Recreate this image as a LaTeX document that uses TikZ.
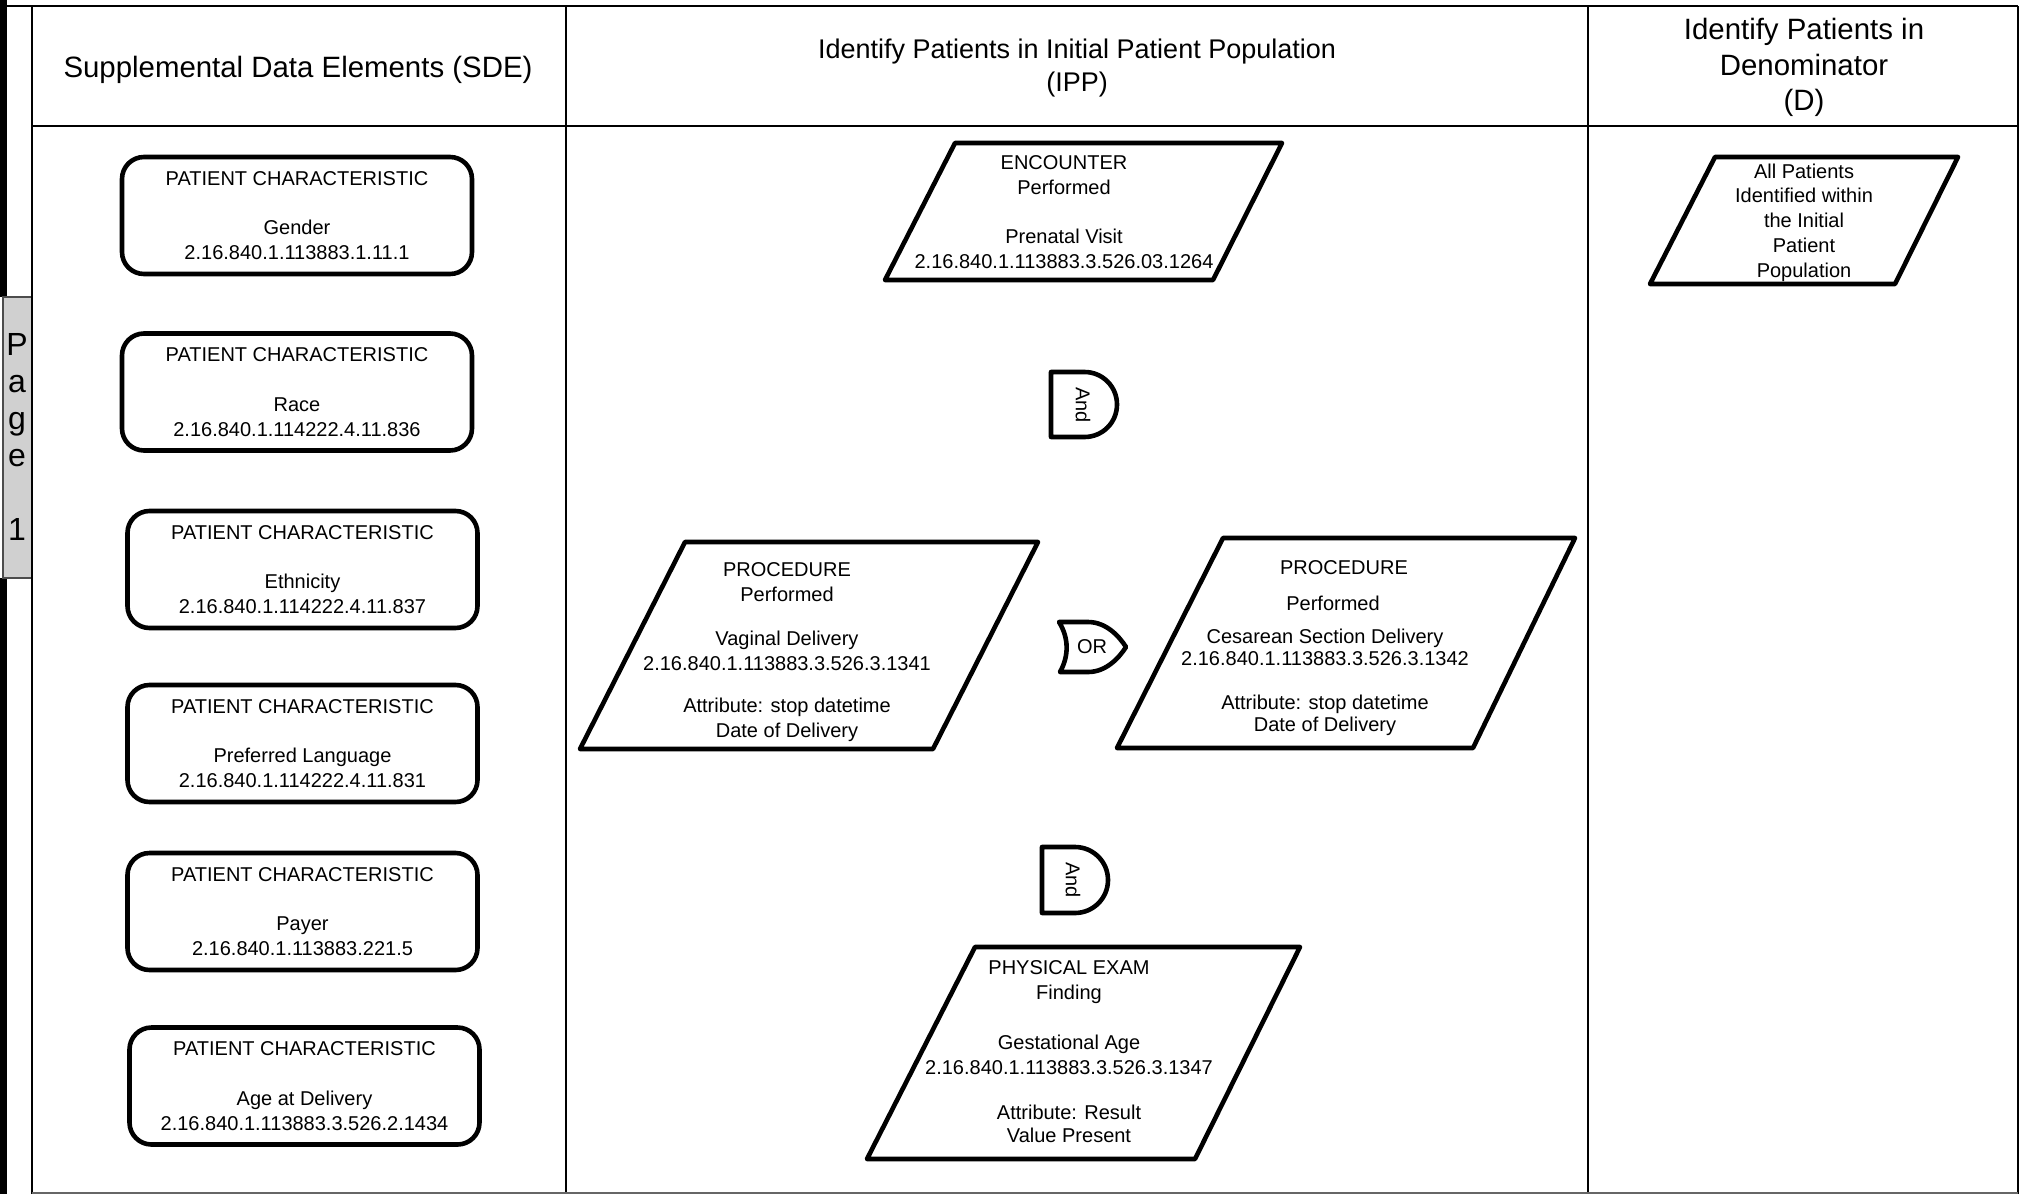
\documentclass[tikz,border=0pt]{standalone}
\usepackage{fontspec}
\setmainfont{Liberation Sans}
\newcommand\txtS{\fontsize{10pt}{12.4pt}\selectfont}
\newcommand\txtH{\fontsize{14.7pt}{17.75pt}\selectfont}
\newcommand\txtHi{\fontsize{13.5pt}{16.2pt}\selectfont}
\newcommand\txtP{\fontsize{16pt}{18.5pt}\selectfont}
\definecolor{tabgray}{RGB}{208,208,208}
\begin{document}
\begin{tikzpicture}[x=0.5pt,y={(0pt,-0.5pt)},
  tbl/.style={line width=1pt},
  shp/.style={draw, line width=2.3pt, line join=round},
  sde/.style={draw, line width=2.3pt, rounded corners=11pt, minimum width=175pt,
              minimum height=58.5pt, inner sep=0pt, align=center, font=\txtS},
  lbl/.style={align=center, font=\txtS, inner sep=0pt},
  hdr/.style={align=center, font=\txtH, inner sep=0pt}]
\useasboundingbox (0,0) rectangle (2023,1194);
\fill[white] (0,0) rectangle (2023,1194);

% left black bar and page tab
\fill[black] (0,0) rectangle (7,297);
\fill[black] (0,578) rectangle (7,1194);
\draw[fill=tabgray, draw=black!70, line width=0.8pt] (3,297) rectangle (32,578);
\node[align=center, font=\txtP, inner sep=0pt] (page) at (17,436.5) {P\\a\\g\\e\\[18.5pt]1};

% table
\draw[tbl] (7,6) -- (2018,6);
\draw[tbl] (32,6) -- (32,1194);
\draw[tbl] (566,6) -- (566,1194);
\draw[tbl] (1588,6) -- (1588,1194);
\draw[line width=1.2pt] (2018,6) -- (2018,1194);
\draw[tbl] (32,126) -- (2018,126);
\draw[tbl, black!60] (32,1193) -- (2018,1193);

% headers
\node[hdr] (hsde) at (298,70) {Supplemental Data Elements (SDE)};
\node[hdr, font=\txtHi] (hipp) at (1077,68) {Identify Patients in Initial Patient Population\\(IPP)};
\node[hdr] (hden) at (1804,67.6) {Identify Patients in\\Denominator\\(D)};

% SDE boxes
\node[sde] (gender) at (297,215.5) {PATIENT CHARACTERISTIC\\[12.4pt]Gender\\2.16.840.1.113883.1.11.1};
\node[sde] (race) at (297,392) {PATIENT CHARACTERISTIC\\[12.4pt]Race\\2.16.840.1.114222.4.11.836};
\node[sde] (ethnicity) at (302.5,569.5) {PATIENT CHARACTERISTIC\\[12.4pt]Ethnicity\\2.16.840.1.114222.4.11.837};
\node[sde] (language) at (302.5,743.5) {PATIENT CHARACTERISTIC\\[12.4pt]Preferred Language\\2.16.840.1.114222.4.11.831};
\node[sde] (payer) at (302.5,911.5) {PATIENT CHARACTERISTIC\\[12.4pt]Payer\\2.16.840.1.113883.221.5};
\node[sde] (age) at (304.5,1086) {PATIENT CHARACTERISTIC\\[12.4pt]Age at Delivery\\2.16.840.1.113883.3.526.2.1434};

% IPP shapes
\draw[shp] (955,143) -- (1282,143) -- (1213,280) -- (885,280) -- cycle;
\node[lbl] (encounter) at (1064,212) {ENCOUNTER\\Performed\\[12.4pt]Prenatal Visit\\2.16.840.1.113883.3.526.03.1264};

\draw[shp] (1051,372) -- (1084.5,372) .. controls (1102.5,372) and (1117,386.5) .. (1117,404.5)
  .. controls (1117,422.5) and (1102.5,437) .. (1084.5,437) -- (1051,437) -- cycle;
\node[lbl, rotate=-90] (and1) at (1083,405) {And};

\draw[shp] (685,542) -- (1038,542) -- (933,749) -- (580,749) -- cycle;
\node[lbl] (vaginal) at (787,652) {PROCEDURE\\Performed\\[9.5pt]Vaginal Delivery\\2.16.840.1.113883.3.526.3.1341\\[8.7pt]Attribute: stop datetime\\Date of Delivery};

\draw[shp] (1059,622) -- (1088,622) .. controls (1106,622) and (1119,636) .. (1126,647)
  .. controls (1119,658) and (1106,672) .. (1088,672) -- (1060,672)
  .. controls (1069,656) and (1069,638) .. (1059,622) -- cycle;
\node[lbl] (or) at (1092,647) {OR};

\draw[shp] (1223,538) -- (1575,538) -- (1473,748) -- (1117,748) -- cycle;
\node[lbl] (cesarean) at (1325,647.6) {\hspace*{19pt}PROCEDURE\\[5.6pt]\hspace*{8pt}Performed\\[4.1pt]Cesarean Section Delivery\\[-1.1pt]2.16.840.1.113883.3.526.3.1342\\[9.3pt]Attribute: stop datetime\\[-1.4pt]Date of Delivery};

\draw[shp] (1042,847) -- (1075,847) .. controls (1093.2,847) and (1108,861.8) .. (1108,880)
  .. controls (1108,898.2) and (1093.2,913) .. (1075,913) -- (1042,913) -- cycle;
\node[lbl, rotate=-90] (and2) at (1073,880) {And};

\draw[shp] (975,947) -- (1300,947) -- (1195,1159) -- (867,1159) -- cycle;
\node[lbl] (exam) at (1069,1051.5) {PHYSICAL EXAM\\Finding\\[12.6pt]Gestational Age\\2.16.840.1.113883.3.526.3.1347\\[10.3pt]Attribute: Result\\[-1.1pt]Value Present};

% Denominator
\draw[shp] (1715,157) -- (1958,157) -- (1895,284) -- (1650,284) -- cycle;
\node[lbl] (denom) at (1804,222.5) {All Patients\\Identified within\\the Initial\\Patient\\Population};
\end{tikzpicture}
\end{document}
